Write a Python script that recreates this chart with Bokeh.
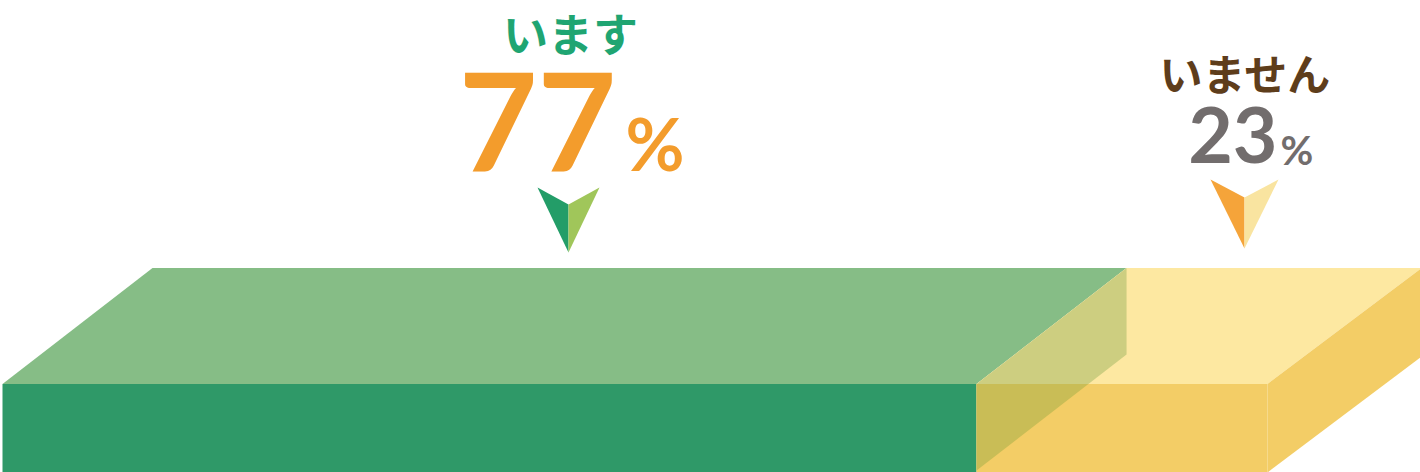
from bokeh.plotting import figure
from bokeh.models import Range1d
from bokeh.core.properties import value
from bokeh.embed import file_html
from bokeh.resources import INLINE

# ---- data ----
categories = ["います", "いません"]
percents = [77, 23]
pct_labels = ["77", "23"]

# ---- layout constants (page pixels) ----
LEFT_PX, RIGHT_PX = 2, 1267          # front face extent for 0..100 %
UNIT = (RIGHT_PX - LEFT_PX) / 100.0  # px per percent
def X(px):
    return (px - LEFT_PX) / UNIT

DX = X(152) - X(2)     # depth offset (x, in % units)
DXR = X(156) - X(2)    # slightly wider depth on the far right
FRONT_TOP, FRONT_BOT = 383.5, 472   # page y
BACK_TOP = 267.5
DY = FRONT_TOP - BACK_TOP

p = figure(width=1420, height=472, output_backend="svg", toolbar_location=None,
           x_range=Range1d(X(0), X(1420)), y_range=Range1d(472, 0),
           min_border=0)
p.axis.visible = False
p.grid.visible = False
p.outline_line_color = None
p.background_fill_color = "white"
p.border_fill_color = "white"

g0, g1 = 0, percents[0]
y0, y1 = percents[0], percents[0] + percents[1]

# green top face
p.patch([g0, g0 + DX, g1 + DX, g1], [FRONT_TOP, BACK_TOP, BACK_TOP, FRONT_TOP],
        fill_color="#86bd86", line_color=None)
# green front
p.quad(left=[g0], right=[g1], top=[FRONT_TOP], bottom=[FRONT_BOT],
       fill_color="#2f9968", line_color=None)
# yellow top
p.patch([y0, y0 + DX, y1 + DXR, y1], [FRONT_TOP, BACK_TOP, BACK_TOP, FRONT_TOP],
        fill_color="#fde8a1", line_color=None)
# yellow front
p.quad(left=[y0], right=[y1], top=[FRONT_TOP], bottom=[FRONT_BOT],
       fill_color="#f3cd66", line_color=None)
# yellow side
p.patch([y1, y1 + DXR, y1 + DXR, y1],
        [FRONT_TOP, BACK_TOP, FRONT_BOT - DY, FRONT_BOT],
        fill_color="#f3cd66", line_color=None)
# green side face seen through yellow (upper part, through top face)
SIDE_BOT = FRONT_BOT - 2
xc = g1 + DX * min(1.0, (SIDE_BOT - FRONT_TOP) / DY)
p.patch([g1, g1 + DX, g1 + DX, xc],
        [FRONT_TOP, BACK_TOP, SIDE_BOT - DY, FRONT_TOP],
        fill_color="#cdce80", line_color=None)
# lower part, through the front face
p.patch([g1, xc, g1], [FRONT_TOP, FRONT_TOP, SIDE_BOT],
        fill_color="#c9bd56", line_color=None)

# ---- arrows ----
def arrow(cx, top, notch, bottom, half, cl, cr):
    p.patch([X(cx - half), X(cx), X(cx)], [top, notch, bottom], fill_color=cl, line_color=None)
    p.patch([X(cx), X(cx + half), X(cx)], [notch, top, bottom], fill_color=cr, line_color=None)

arrow(568, 187, 204, 252, 31, "#239d68", "#a0c65a")
arrow(1244, 179, 197, 248, 34, "#f5a43a", "#f9e4a0")

# ---- labels ----
JP = value("Noto Sans CJK JP")
NUM = value("Lato")
p.text(x=[X(570)], y=[32], text=[categories[0]], text_font=JP, text_font_size="45px",
       text_font_style="bold", text_color="#1fa572", text_align="center", text_baseline="middle")
p.text(x=[X(1245)], y=[71], text=[categories[1]], text_font=JP, text_font_size="43px",
       text_font_style="bold", text_color="#5e3d1b", text_align="center", text_baseline="middle")

p.text(x=[X(616)], y=[121], text=[pct_labels[0]], text_font=NUM, text_font_size="136px",
       text_font_style="bold", text_color="#f39c2c", text_align="right", text_baseline="alphabetic")
p.text(x=[X(625)], y=[142], text=["%"], text_font=NUM, text_font_size="72px",
       text_font_style="bold", text_color="#f39c2c", text_align="left", text_baseline="alphabetic")

p.text(x=[X(1277)], y=[134], text=[pct_labels[1]], text_font=NUM, text_font_size="77px",
       text_font_style="bold", text_color="#726d6d", text_align="right", text_baseline="alphabetic")
p.text(x=[X(1280)], y=[149], text=["%"], text_font=NUM, text_font_size="40px",
       text_font_style="bold", text_color="#726d6d", text_align="left", text_baseline="alphabetic")

open("out.html", "w").write(file_html(p, INLINE))
